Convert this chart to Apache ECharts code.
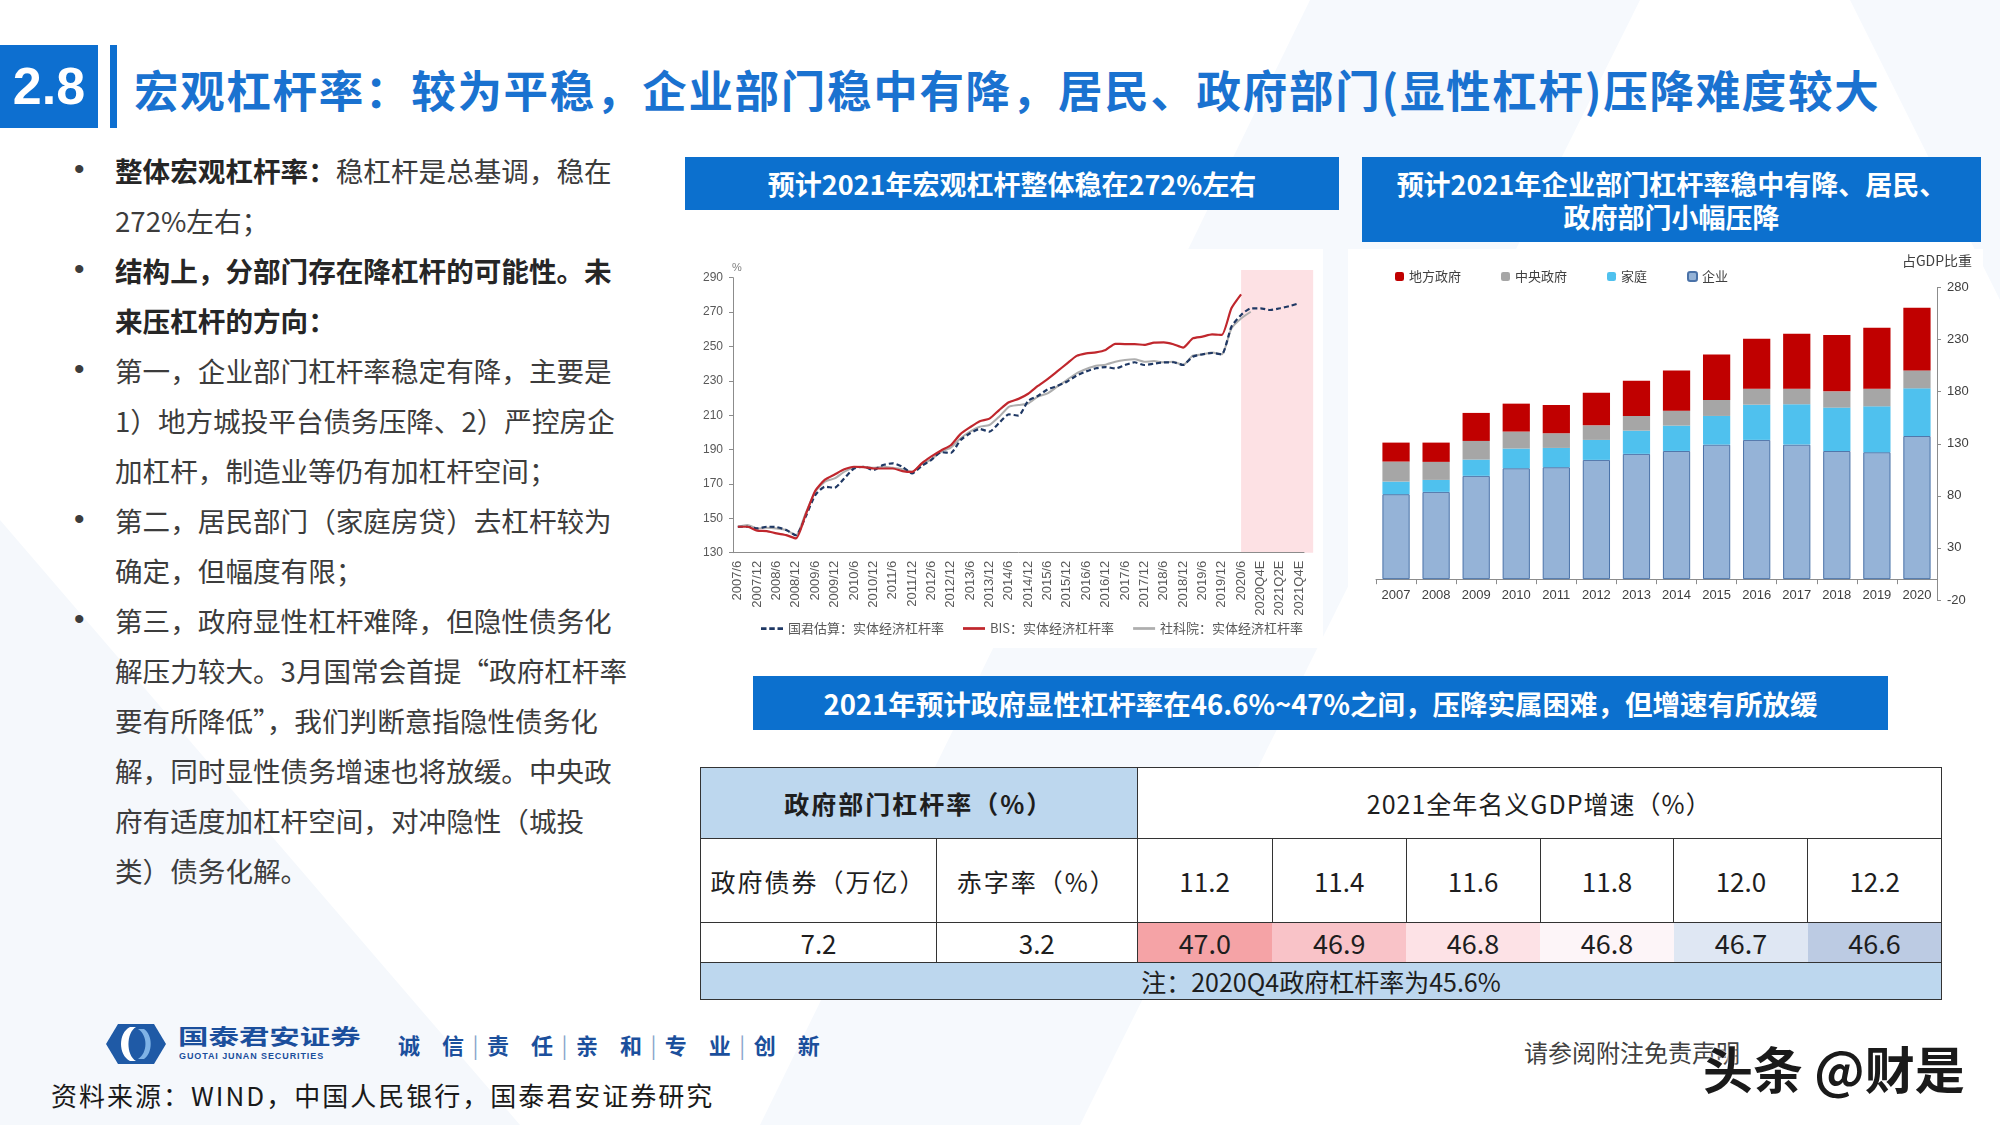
<!DOCTYPE html>
<html>
<head>
<meta charset="utf-8">
<script src="https://cdn.jsdelivr.net/npm/echarts@6/dist/echarts.min.js"></script>
<style>
html,body{margin:0;padding:0;}
body{width:2000px;height:1125px;overflow:hidden;background:#fff;font-family:"Noto Sans CJK SC","Noto Sans",sans-serif;}
#slide{position:relative;width:2000px;height:1125px;overflow:hidden;background:#fff;}
.abs{position:absolute;}
.bgshape{position:absolute;left:0;top:0;width:2000px;height:1125px;}
.txt{position:absolute;left:76px;top:145px;width:580px;font-size:27.6px;line-height:50px;color:#3c3c3c;}
.txt div{position:relative;height:50px;white-space:nowrap;padding-left:39px;}
.txt .b{font-weight:bold;color:#262626;}
.txt .dot{position:absolute;left:-2px;top:-1px;font-size:30px;color:#3c3c3c;font-family:'Liberation Sans',Arial,sans-serif;}
.box{position:absolute;background:#0c70ce;color:#fff;font-weight:bold;text-align:center;white-space:nowrap;}
#tbl{position:absolute;left:700px;top:767px;border-collapse:collapse;table-layout:fixed;width:1241px;color:#1e1e1e;font-family:"Noto Sans CJK SC",sans-serif;}
#tbl td{border:1.5px solid #333;text-align:center;padding:0;white-space:nowrap;overflow:hidden;}
#tbl td.nb{border-left:none;border-right:none;}
</style>
</head>
<body>
<div id="slide">
  <svg class="bgshape" width="2000" height="1125">
    <polygon points="1310,0 1640,0 1080,1125 760,1125" fill="#f6f9fd"/>
    <polygon points="0,520 520,1125 0,1125" fill="#f5f8fc"/>
    <polygon points="1850,0 2000,0 2000,300" fill="#f6f9fd"/>
  </svg>

  <!-- header -->
  <div class="abs" style="left:0;top:45px;width:98px;height:83px;background:#0d6fd0;color:#fff;font:bold 52px 'Liberation Sans',Arial,sans-serif;line-height:83px;text-align:center;">2.8</div>
  <div class="abs" style="left:110px;top:45px;width:7px;height:83px;background:#0d6fd0;"></div>
  <div id="title" class="abs" style="left:134px;top:60px;font-weight:bold;font-size:44.5px;line-height:58px;color:#1a72d0;white-space:nowrap;letter-spacing:1.7px;"></div>

  <!-- left text -->
  <div class="txt" id="txt"></div>

  <!-- chart title boxes -->
  <div class="box" id="t1" style="left:685px;top:157px;width:654px;height:53px;font-size:27px;line-height:53px;"></div>
  <div class="box" id="t2" style="left:1362px;top:157px;width:619px;height:85px;font-size:27px;line-height:33px;padding-top:10px;box-sizing:border-box;"></div>
  <div class="box" id="t3" style="left:753px;top:676px;width:1135px;height:54px;font-size:27.5px;line-height:54px;"></div>

  <!-- chart panels -->
  <div class="abs" style="left:685px;top:249px;width:638px;height:399px;background:#fff;"></div>
  <div class="abs" style="left:1348px;top:249px;width:635px;height:399px;background:#fff;"></div>

  <!-- table -->
  <table id="tbl"></table>

  <!-- footer -->
  <svg class="abs" style="left:104px;top:1023px;" width="64" height="42" viewBox="0 0 64 42">
    <polygon points="14,1 50,1 62,21 50,41 14,41 2,21" fill="#1f5aa6"/>
    <path d="M26,4 C14,10 14,32 26,38 L32,38 C22,32 22,10 32,4 Z" fill="#ffffff"/>
    <path d="M34,6 C44,12 44,30 34,36 L40,36 C49,30 49,12 40,6 Z" fill="#7fb3e6"/>
  </svg>
  <div class="abs" style="left:178px;top:1022px;width:130px;font-weight:bold;font-size:21px;line-height:26px;color:#1b4f9c;white-space:nowrap;transform:scaleX(1.45);transform-origin:left top;">国泰君安证券</div>
  <div class="abs" style="left:179px;top:1050px;font-weight:bold;font-size:9px;line-height:12px;color:#1b4f9c;white-space:nowrap;letter-spacing:0.9px;font-family:'Liberation Sans',sans-serif;">GUOTAI JUNAN SECURITIES</div>
  <div class="abs" style="left:398px;top:1029px;font-weight:bold;font-size:22px;line-height:30px;color:#1b4f9c;white-space:nowrap;letter-spacing:8.5px;">诚 信<span style="color:#8aa6cc;font-weight:normal;">|</span>责 任<span style="color:#8aa6cc;font-weight:normal;">|</span>亲 和<span style="color:#8aa6cc;font-weight:normal;">|</span>专 业<span style="color:#8aa6cc;font-weight:normal;">|</span>创 新</div>
  <div class="abs" style="left:51px;top:1078px;font-size:26px;line-height:34px;color:#1a1a1a;white-space:nowrap;letter-spacing:2px;">资料来源：WIND，中国人民银行，国泰君安证券研究</div>
  <div class="abs" style="left:1524px;top:1036px;font-size:24px;line-height:32px;color:#404040;white-space:nowrap;">请参阅附注免责声明</div>
  <div class="abs" style="left:1703px;top:1036px;font-weight:bold;font-size:50px;line-height:62px;color:#1a1a1a;white-space:nowrap;text-shadow:0 0 3px #fff,0 0 3px #fff;">头条 @财是</div>

  <div id="chart" class="abs" style="left:0;top:0;width:2000px;height:1125px;"></div>
</div>

<script>
// ---------- text content ----------
const slideTitle = '宏观杠杆率：较为平稳，企业部门稳中有降，居民、政府部门(显性杠杆)压降难度较大';
const chartTitle1 = '预计2021年宏观杠杆整体稳在272%左右';
const chartTitle2 = ['预计2021年企业部门杠杆率稳中有降、居民、', '政府部门小幅压降'];
const bannerText = '2021年预计政府显性杠杆率在46.6%~47%之间，压降实属困难，但增速有所放缓';
// each line: [bullet?, boldPart, normalPart]
const bodyLines = [
  [true, '整体宏观杠杆率：', '稳杠杆是总基调，稳在'],
  [false, '', '272%左右；'],
  [true, '结构上，分部门存在降杠杆的可能性。未', ''],
  [false, '来压杠杆的方向：', ''],
  [true, '', '第一，企业部门杠杆率稳定有降，主要是'],
  [false, '', '1）地方城投平台债务压降、2）严控房企'],
  [false, '', '加杠杆，制造业等仍有加杠杆空间；'],
  [true, '', '第二，居民部门（家庭房贷）去杠杆较为'],
  [false, '', '确定，但幅度有限；'],
  [true, '', '第三，政府显性杠杆难降，但隐性债务化'],
  [false, '', '解压力较大。3月国常会首提“政府杠杆率'],
  [false, '', '要有所降低”，我们判断意指隐性债务化'],
  [false, '', '解，同时显性债务增速也将放缓。中央政'],
  [false, '', '府有适度加杠杆空间，对冲隐性（城投'],
  [false, '', '类）债务化解。']
];

// ---------- table data ----------
const tableHeadLeft = '政府部门杠杆率（%）';
const tableHeadRight = '2021全年名义GDP增速（%）';
const tableRowLabels = ['政府债券（万亿）', '赤字率（%）'];
const gdpGrowth = ['11.2', '11.4', '11.6', '11.8', '12.0', '12.2'];
const govBondValue = '7.2';
const deficitValue = '3.2';
const govLeverage = ['47.0', '46.9', '46.8', '46.8', '46.7', '46.6'];
const tableNote = '注：2020Q4政府杠杆率为45.6%';

// ---------- line chart data ----------
const lineCategories = [
  '2007/6','2007/9','2007/12','2008/3','2008/6','2008/9','2008/12','2009/3','2009/6','2009/9',
  '2009/12','2010/3','2010/6','2010/9','2010/12','2011/3','2011/6','2011/9','2011/12','2012/3',
  '2012/6','2012/9','2012/12','2013/3','2013/6','2013/9','2013/12','2014/3','2014/6','2014/9',
  '2014/12','2015/3','2015/6','2015/9','2015/12','2016/3','2016/6','2016/9','2016/12','2017/3',
  '2017/6','2017/9','2017/12','2018/3','2018/6','2018/9','2018/12','2019/3','2019/6','2019/9',
  '2019/12','2020/3','2020/6','2020/9','2020Q4E','2021Q1E','2021Q2E','2021Q3E','2021Q4E'
];
const guojunEstimate = [
  145.1,145.1,144.1,145.1,144.9,143.2,140.2,150.9,163.5,168.4,
  167.8,173.2,179.0,180.0,178.1,181.0,182.0,180.0,176.1,180.5,
  184.0,188.5,188.0,195.5,199.5,202.0,200.4,205.5,210.5,209.8,
  218.3,221.2,225.0,227.0,229.5,233.0,235.5,237.3,238.0,237.2,
  239.2,240.8,239.2,240.0,240.7,240.8,239.2,244.0,245.4,246.2,
  245.4,261.5,268.3,272.2,272.2,271.2,272.2,273.5,275.1
];
const bisLeverage = [
  145.1,145.1,142.8,142.6,141.2,140.2,138.3,152.0,166.0,172.5,
  175.5,178.5,180.0,179.8,179.0,179.0,179.0,177.5,177.0,182.0,
  186.0,189.5,192.5,199.0,203.0,206.5,208.0,213.0,217.5,219.5,
  222.5,227.0,231.0,235.5,240.0,244.5,246.0,246.6,248.0,251.5,
  251.4,251.4,250.9,252.2,252.4,251.3,249.3,254.7,255.7,257.0,
  256.7,272.2,280.3
];
const cassLeverage = [
  145.1,146.1,144.1,144.5,144.1,143.2,140.2,152.9,165.5,171.3,
  173.2,177.1,179.6,180.0,179.4,180.0,179.4,178.6,177.1,181.5,
  184.3,188.7,191.1,196.5,200.4,203.3,204.3,209.1,214.9,215.9,
  216.8,220.8,222.7,226.6,230.5,234.4,236.9,238.8,239.4,241.1,
  242.1,242.5,241.1,241.5,240.8,241.1,239.2,244.6,245.4,246.5,
  245.4,260.5,266.3,270.2
];
const lineSeriesNames = ['国君估算：实体经济杠杆率', 'BIS：实体经济杠杆率', '社科院：实体经济杠杆率'];
const forecastStart = '2020/6';

// ---------- bar chart data ----------
const barYears = ['2007','2008','2009','2010','2011','2012','2013','2014','2015','2016','2017','2018','2019','2020'];
const corporate   = [81.6, 83.8, 99.2, 106.5, 107.5, 114.5, 120.3, 123.1, 129.2, 133.7, 129.2, 123.1, 121.9, 137.5];
const household   = [12.1, 11.5, 15.6, 18.9, 18.5, 19.2, 22.3, 24.3, 27.5, 33.8, 38.7, 41.6, 44.0, 45.7];
const centralGov  = [19.2, 17.3, 17.9, 16.3, 14.1, 14.0, 14.1, 14.4, 15.3, 15.4, 15.0, 15.6, 17.0, 17.2];
const localGov    = [18.2, 18.5, 26.9, 26.8, 27.1, 31.3, 33.8, 38.6, 43.8, 47.9, 52.7, 54.0, 58.4, 60.1];
const barLegendOrder = ['地方政府', '中央政府', '家庭', '企业'];

// ---------- build HTML text ----------
document.getElementById('title').textContent = slideTitle;
document.getElementById('t1').textContent = chartTitle1;
document.getElementById('t2').innerHTML = chartTitle2.join('<br>');
document.getElementById('t3').textContent = bannerText;
const txt = document.getElementById('txt');
bodyLines.forEach(function (l) {
  const d = document.createElement('div');
  if (l[0]) { const s = document.createElement('span'); s.className = 'dot'; s.textContent = '•'; d.appendChild(s); }
  if (l[1]) { const b = document.createElement('span'); b.className = 'b'; b.textContent = l[1]; d.appendChild(b); }
  if (l[2]) { d.appendChild(document.createTextNode(l[2])); }
  txt.appendChild(d);
});

// table
(function () {
  const colW = [236, 200.5, 135.2, 133.9, 134, 133.9, 133.9, 133.6];
  const heat = ['#f5a3a6', '#f9c3c8', '#fde2e6', '#fdf5f8', '#dfe7f3', '#bccbe3'];
  const t = document.getElementById('tbl');
  let h = '<colgroup>' + colW.map(w => '<col style="width:' + w + 'px">').join('') + '</colgroup>';
  h += '<tr style="height:71px"><td colspan="2" style="background:#bdd7ee;font-weight:bold;font-size:25px;letter-spacing:2px;">' + tableHeadLeft +
       '</td><td colspan="6" style="background:#fff;font-size:25px;letter-spacing:1px;">' + tableHeadRight + '</td></tr>';
  h += '<tr style="height:84px"><td style="font-size:25px;letter-spacing:2px;background:#fff;">' + tableRowLabels[0] + '</td><td style="font-size:25px;letter-spacing:2px;background:#fff;">' + tableRowLabels[1] + '</td>' +
       gdpGrowth.map(v => '<td style="font-size:26px;background:#fff;">' + v + '</td>').join('') + '</tr>';
  h += '<tr style="height:37px"><td style="font-size:26px;background:#fff;">' + govBondValue + '</td><td style="font-size:26px;background:#fff;">' + deficitValue + '</td>' +
       govLeverage.map((v, i) => '<td class="nb" style="font-size:27px;background:' + heat[i] + ';' + (i === 5 ? 'border-right:1.5px solid #333;' : '') + '">' + v + '</td>').join('') + '</tr>';
  h += '<tr style="height:37px"><td colspan="8" style="background:#bdd7ee;font-size:25px;">' + tableNote + '</td></tr>';
  t.innerHTML = h;
})();

// ---------- ECharts ----------
const chart = echarts.init(document.getElementById('chart'), null, { renderer: 'canvas', width: 2000, height: 1125 });
const latin = "'Liberation Sans', Arial, sans-serif";
const cjk = "'Noto Sans CJK SC', sans-serif";
const dashIcon = 'path://M0,0h6v3h-6zM9,0h6v3h-6zM18,0h6v3h-6z';
const solidIcon = 'path://M0,0h24v3h-24z';
const option = {
  animation: false,
  textStyle: { fontFamily: cjk },
  grid: [
    { left: 733, top: 277.7, width: 571, height: 275 },
    { left: 1376, top: 287.5, width: 561, height: 312.5 }
  ],
  xAxis: [
    {
      type: 'category', gridIndex: 0, data: lineCategories, boundaryGap: true,
      axisLine: { lineStyle: { color: '#8c8c8c', width: 1 } },
      axisTick: { show: false },
      axisLabel: { interval: 1, rotate: 90, fontSize: 13, color: '#595959', margin: 8, fontFamily: latin }
    },
    {
      type: 'category', gridIndex: 1, data: barYears,
      axisLine: { onZero: false, lineStyle: { color: '#8c8c8c' } },
      offset: -20.8,
      axisTick: { show: true, length: 5, lineStyle: { color: '#8c8c8c' } },
      axisLabel: { fontSize: 13, color: '#404040', margin: 10, fontFamily: latin }
    }
  ],
  yAxis: [
    {
      type: 'value', gridIndex: 0, min: 130, max: 290, interval: 20,
      name: '%', nameLocation: 'end', nameGap: 4,
      nameTextStyle: { fontSize: 11, color: '#7f7f7f', align: 'left', padding: [0, 0, 0, -1], fontFamily: latin },
      axisLine: { show: true, lineStyle: { color: '#8c8c8c' } },
      axisTick: { show: true, length: 4, lineStyle: { color: '#8c8c8c' } },
      splitLine: { show: false },
      axisLabel: { fontSize: 12, color: '#595959', margin: 10, fontFamily: latin }
    },
    {
      type: 'value', gridIndex: 1, position: 'right', min: -20, max: 280, interval: 50,
      name: '占GDP比重', nameLocation: 'end', nameGap: 20,
      nameTextStyle: { fontSize: 14, color: '#404040', align: 'center' },
      axisLine: { show: true, lineStyle: { color: '#8c8c8c' } },
      axisTick: { show: true, length: 4, lineStyle: { color: '#8c8c8c' } },
      splitLine: { show: false },
      axisLabel: { fontSize: 13, color: '#404040', margin: 10, fontFamily: latin }
    }
  ],
  legend: [
    {
      data: [
        { name: lineSeriesNames[0], icon: dashIcon, itemStyle: { color: '#1f3864' } },
        { name: lineSeriesNames[1], icon: solidIcon, itemStyle: { color: '#c0272d' } },
        { name: lineSeriesNames[2], icon: solidIcon, itemStyle: { color: '#aeaeae' } }
      ],
      left: 756, top: 617, itemWidth: 22, itemHeight: 3, itemGap: 19,
      textStyle: { fontSize: 13, color: '#595959' }
    },
    {
      data: barLegendOrder, left: 1390, top: 265, itemWidth: 9, itemHeight: 9, itemGap: 40,
      textStyle: { fontSize: 13, color: '#404040' }
    }
  ],
  series: [
    {
      name: lineSeriesNames[2], type: 'line', xAxisIndex: 0, yAxisIndex: 0, data: cassLeverage,
      symbol: 'none', smooth: 0.2, lineStyle: { color: '#aeaeae', width: 2 }, itemStyle: { color: '#aeaeae' }, z: 3
    },
    {
      name: lineSeriesNames[0], type: 'line', xAxisIndex: 0, yAxisIndex: 0, data: guojunEstimate,
      symbol: 'none', smooth: 0.2, lineStyle: { color: '#1f3864', width: 2.2, type: [5, 3] }, itemStyle: { color: '#1f3864' }, z: 4
    },
    {
      name: lineSeriesNames[1], type: 'line', xAxisIndex: 0, yAxisIndex: 0, data: bisLeverage,
      symbol: 'none', smooth: 0.2, lineStyle: { color: '#c0272d', width: 2.2 }, itemStyle: { color: '#c0272d' }, z: 5
    },
    {
      name: '企业', type: 'bar', xAxisIndex: 1, yAxisIndex: 1, stack: 'total', data: corporate, barWidth: '68%',
      itemStyle: { color: '#95b3d7', borderColor: '#4a72a8', borderWidth: 1 }
    },
    {
      name: '家庭', type: 'bar', xAxisIndex: 1, yAxisIndex: 1, stack: 'total', data: household, barWidth: '68%',
      itemStyle: { color: '#4fc1ee' }
    },
    {
      name: '中央政府', type: 'bar', xAxisIndex: 1, yAxisIndex: 1, stack: 'total', data: centralGov, barWidth: '68%',
      itemStyle: { color: '#a6a6a6' }
    },
    {
      name: '地方政府', type: 'bar', xAxisIndex: 1, yAxisIndex: 1, stack: 'total', data: localGov, barWidth: '68%',
      itemStyle: { color: '#c00000' }
    }
  ]
};
chart.setOption(option);

// forecast shading, positioned through the line chart's own scales
const pTop = chart.convertToPixel({ xAxisIndex: 0, yAxisIndex: 0 }, [forecastStart, 294.5]);
const pBot = chart.convertToPixel({ xAxisIndex: 0, yAxisIndex: 0 }, [lineCategories[lineCategories.length - 1], 130]);
chart.setOption({
  graphic: [{
    type: 'rect', silent: true, z: -10,
    shape: { x: pTop[0], y: pTop[1], width: (pBot[0] + 14) - pTop[0], height: pBot[1] - pTop[1] },
    style: { fill: '#fde1e4' }
  }]
});
</script>
</body>
</html>
